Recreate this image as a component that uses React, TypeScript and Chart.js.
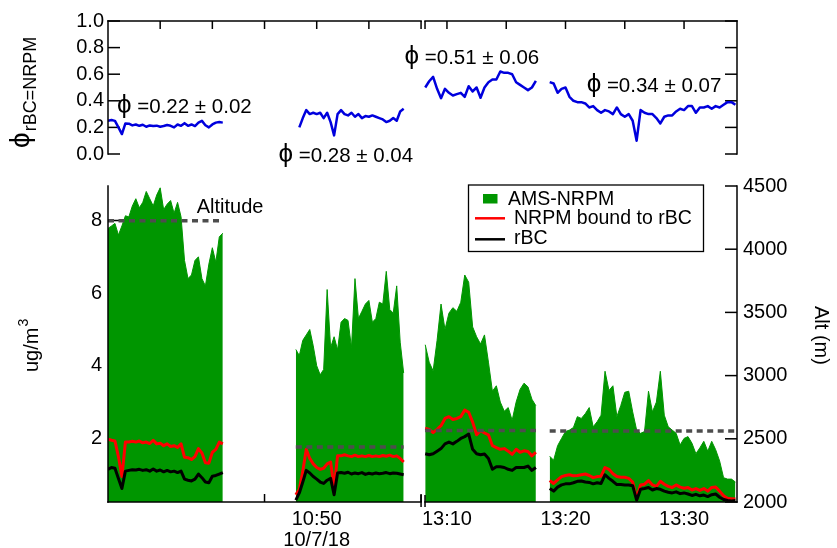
import React, { useEffect, useRef } from 'react';
import { Chart, registerables } from 'chart.js';

Chart.register(...registerables);

const FONT = "'Liberation Sans', Arial, Helvetica, sans-serif";
Chart.defaults.font.family = FONT;
Chart.defaults.color = '#000';

// ---------- broken time axis ----------
const PART1_START = '10:30:00';
const PART1_END = '11:00:00';
const PART2_START = '13:08:09';
const PART2_END = '13:34:28';
const PART2_STRETCH = 1.136; // part 2 drawn wider per minute
const BREAK_GAP_MIN = 0.38;

const SAMPLE_STEP_SEC = 20;
const SEGMENT_START_TIMES = ['10:30:00', '10:48:00', '13:08:10', '13:18:40'];

const X_TICK_TIMES = ['10:35:00', '10:40:00', '10:45:00', '10:50:00', '10:55:00', '11:00:00', '13:10:00', '13:15:00', '13:20:00', '13:25:00', '13:30:00'];
const X_TICK_LABELS: (string | string[])[] = ['', '', '', ['10:50', '10/7/18'], '', '', '13:10', '', '13:20', '', '13:30'];

// ---------- data (ug/m3), one array per flight segment ----------
const AMS_NRPM: number[][] = [
  [7.78, 7.85, 7.92, 7.6, 7.85, 8.13, 8.1, 8.4, 8.6, 8.35, 8.5, 8.8, 8.6, 8.4, 8.7, 8.9, 8.3, 8.45, 8.55, 8.2, 8.5, 8.1, 6.9, 6.4, 6.5, 6.9, 7.0, 6.4, 6.2, 6.8, 7.25, 6.85, 7.55, 7.65],
  [4.45, 4.28, 4.7, 4.85, 5.0, 4.55, 4.0, 3.75, 3.9, 6.1, 4.5, 4.8, 4.44, 5.2, 5.3, 5.25, 4.5, 6.4, 5.3, 5.5, 5.7, 5.8, 5.2, 5.3, 5.75, 5.7, 6.6, 5.55, 5.45, 6.2, 4.65, 3.8],
  [4.58, 4.1, 3.86, 4.7, 5.7, 5.0, 5.45, 5.6, 5.5, 5.75, 6.5, 6.3, 5.07, 4.8, 4.6, 4.85, 4.1, 3.3, 3.45, 3.0, 2.75, 2.85, 2.5, 3.0, 3.35, 3.52, 3.42, 3.08, 2.9],
  [1.51, 1.4, 1.8, 2.0, 2.19, 2.23, 2.3, 2.6, 2.55, 2.68, 2.85, 2.32, 2.46, 2.64, 3.85, 3.32, 3.45, 2.6, 2.91, 3.27, 3.3, 2.73, 2.23, 2.14, 2.19, 3.3, 2.73, 3.0, 3.85, 2.64, 2.32, 2.23, 2.14, 1.82, 2.0, 2.05, 1.87, 1.58, 1.74, 1.92, 1.65, 1.92, 1.69, 1.38, 0.92, 0.88, 0.88, 0.8],
];
const NRPM_BOUND_TO_RBC: number[][] = [
  [1.98, 1.95, 1.93, 1.5, 0.95, 1.9, 1.9, 1.92, 1.9, 1.93, 1.88, 1.9, 1.86, 1.95, 1.85, 1.87, 1.8, 1.85, 1.78, 1.8, 1.75, 1.85, 1.48, 1.47, 1.42, 1.5, 1.72, 1.6, 1.33, 1.32, 1.62, 1.7, 1.9, 1.85],
  [0.45, 0.6, 1.1, 1.7, 1.45, 1.3, 1.2, 1.15, 1.18, 1.3, 1.35, 0.65, 1.52, 1.52, 1.55, 1.52, 1.5, 1.54, 1.5, 1.52, 1.5, 1.53, 1.5, 1.52, 1.5, 1.53, 1.51, 1.54, 1.5, 1.52, 1.45, 1.35],
  [2.28, 2.25, 2.16, 2.25, 2.35, 2.55, 2.6, 2.52, 2.55, 2.6, 2.78, 2.72, 2.45, 2.1, 2.22, 2.15, 2.1, 1.8, 1.75, 1.7, 1.72, 1.65, 1.56, 1.7, 1.62, 1.66, 1.64, 1.52, 1.62],
  [0.84, 0.76, 0.86, 0.95, 0.98, 1.0, 0.97, 0.98, 1.0, 1.02, 0.98, 0.92, 0.95, 0.96, 1.2, 1.15, 1.03, 0.95, 0.93, 0.93, 0.9, 0.8, 0.35, 0.72, 0.74, 0.84, 0.72, 0.68, 0.82, 0.74, 0.68, 0.65, 0.72, 0.66, 0.63, 0.65, 0.58, 0.62, 0.57, 0.62, 0.55, 0.65, 0.66, 0.55, 0.42, 0.35, 0.34, 0.33],
];
const RBC: number[][] = [
  [1.15, 1.2, 1.18, 0.9, 0.62, 1.1, 1.12, 1.14, 1.13, 1.15, 1.12, 1.14, 1.1, 1.16, 1.1, 1.13, 1.08, 1.12, 1.08, 1.1, 1.06, 1.1, 0.88, 0.85, 0.83, 0.88, 1.02, 0.92, 0.8, 0.78, 0.96, 0.98, 1.02, 1.06],
  [0.3, 0.5, 0.8, 1.12, 1.05, 0.95, 0.88, 0.8, 0.76, 0.85, 0.9, 0.45, 1.05, 1.06, 1.04, 1.07, 1.02, 1.05, 1.03, 1.06, 1.01, 1.04, 1.02, 1.05, 1.03, 1.04, 1.06, 1.03, 1.05, 1.04, 1.02, 1.0],
  [1.58, 1.55, 1.58, 1.65, 1.72, 1.85, 1.9, 1.85, 1.92, 2.0, 2.05, 2.12, 1.7, 1.58, 1.55, 1.57, 1.45, 1.15, 1.22, 1.22, 1.2, 1.15, 1.12, 1.2, 1.2, 1.2, 1.24, 1.12, 1.2],
  [0.62, 0.55, 0.66, 0.72, 0.75, 0.75, 0.78, 0.82, 0.83, 0.8, 0.79, 0.75, 0.78, 0.76, 1.0, 0.9, 0.82, 0.73, 0.73, 0.72, 0.72, 0.7, 0.3, 0.6, 0.62, 0.65, 0.58, 0.62, 0.6, 0.55, 0.52, 0.5, 0.53, 0.48, 0.5, 0.47, 0.43, 0.46, 0.42, 0.44, 0.4, 0.45, 0.47, 0.38, 0.32, 0.29, 0.28, 0.29],
];
const PHI_RBC_NRPM: (number | null)[][] = [
  [0.25, 0.255, 0.249, 0.2, 0.15, 0.23, 0.228, 0.215, 0.222, 0.212, 0.22, 0.205, 0.215, 0.21, 0.213, 0.205, 0.21, 0.218, 0.212, 0.2, 0.222, 0.212, 0.232, 0.212, 0.222, 0.21, 0.236, 0.249, 0.216, 0.2, 0.222, 0.236, 0.24, 0.236],
  [null, 0.2, 0.27, 0.33, 0.3, 0.31, 0.3, 0.31, 0.27, 0.31, 0.24, 0.14, 0.3, 0.33, 0.3, 0.29, 0.31, 0.28, 0.3, 0.27, 0.285, 0.28, 0.29, 0.28, 0.27, 0.26, 0.24, 0.25, 0.27, 0.25, 0.32, 0.34],
  [0.5, 0.547, 0.58, 0.49, 0.42, 0.49, 0.46, 0.44, 0.45, 0.46, 0.43, 0.51, 0.47, 0.5, 0.423, 0.5, 0.54, 0.56, 0.56, 0.62, 0.61, 0.61, 0.6, 0.54, 0.52, 0.5, 0.48, 0.5, 0.55],
  [0.54, 0.53, 0.46, 0.49, 0.5, 0.43, 0.4, 0.39, 0.39, 0.38, 0.35, 0.36, 0.33, 0.31, 0.33, 0.32, 0.3, 0.35, 0.3, 0.28, 0.3, 0.25, 0.1, 0.33, 0.31, 0.3, 0.3, 0.27, 0.23, 0.28, 0.29, 0.29, 0.32, 0.34, 0.33, 0.36, 0.36, 0.31, 0.35, 0.35, 0.36, 0.34, 0.36, 0.35, 0.37, 0.39, 0.39, 0.37],
];
const ALTITUDE_M = [4225, 2435, 2565, 2562];

const PHI_TICKS = [0, 0.2, 0.4, 0.6, 0.8, 1.0];
const MASS_TICKS = [2, 4, 6, 8];
const ALT_TICKS = [2000, 2500, 3000, 3500, 4000, 4500];

const PHI_SYMBOL = '\u03D5';
const PHI_LABELS = [' =0.22 \u00B1 0.02', ' =0.28 \u00B1 0.04', ' =0.51 \u00B1 0.06', ' =0.34 \u00B1 0.07'];
const PHI_LABEL_TIMES = ['10:30:52', '10:46:20', '10:58:25', '13:21:47'];
const PHI_LABEL_VALUES = [0.306, -0.06, 0.679, 0.463];

const ALTITUDE_LABEL = { text: 'Altitude', time: '10:38:30', value: 8.22 };

const GREEN = '#009600';
const RED = '#ff0000';
const BLUE = '#0000dd';
const GRAY = '#4d4d4d';

// ---------- helpers ----------
const toMin = (s: string) => {
  const [h, m, sec] = s.split(':').map(Number);
  return h * 60 + m + (sec || 0) / 60;
};
const P1S = toMin(PART1_START);
const P1E = toMin(PART1_END);
const P2S = toMin(PART2_START);
const P2E = toMin(PART2_END);
const toAxis = (t: number) =>
  t <= P1E + 1e-9 ? t - P1S : P1E - P1S + BREAK_GAP_MIN + (t - P2S) * PART2_STRETCH;
const X_MAX = toAxis(P2E);

function seriesPoints(segments: (number | null)[][]) {
  const pts: { x: number; y: number | null }[] = [];
  segments.forEach((vals, s) => {
    const t0 = toMin(SEGMENT_START_TIMES[s]);
    if (s > 0) pts.push({ x: toAxis(t0) - 0.05, y: null });
    vals.forEach((v, i) => pts.push({ x: toAxis(t0 + (i * SAMPLE_STEP_SEC) / 60), y: v }));
  });
  return pts;
}

function altitudePoints() {
  const pts: { x: number; y: number | null }[] = [];
  ALTITUDE_M.forEach((alt, s) => {
    const t0 = toMin(SEGMENT_START_TIMES[s]);
    const t1 = t0 + ((AMS_NRPM[s].length - 1) * SAMPLE_STEP_SEC) / 60;
    if (s > 0) pts.push({ x: toAxis(t0) - 0.05, y: null });
    pts.push({ x: toAxis(t0), y: alt }, { x: toAxis(t1), y: alt });
  });
  return pts;
}

function seg(ctx: CanvasRenderingContext2D, x1: number, y1: number, x2: number, y2: number) {
  ctx.beginPath();
  ctx.moveTo(x1, y1);
  ctx.lineTo(x2, y2);
  ctx.stroke();
}

const hiddenGrid = { display: false, drawTicks: false };
const noBorder = { display: false };

// ---------- top panel ----------
const topPlugin = {
  id: 'topFrame',
  beforeDatasetsDraw(chart: any) {
    const { ctx, chartArea: a } = chart;
    const xs = chart.scales.x;
    const ys = chart.scales.y;
    ctx.save();
    ctx.strokeStyle = '#000';
    ctx.lineWidth = 1.5;
    PHI_TICKS.forEach((v) => {
      const y = ys.getPixelForValue(v);
      seg(ctx, a.left, y, a.left + 12, y);
      seg(ctx, a.right - 12, y, a.right, y);
    });
    X_TICK_TIMES.forEach((t) => {
      const x = xs.getPixelForValue(toAxis(toMin(t)));
      seg(ctx, x, a.top, x, a.top + 8);
    });
    ctx.restore();
  },
  afterDatasetsDraw(chart: any) {
    const { ctx, chartArea: a } = chart;
    const xs = chart.scales.x;
    const ys = chart.scales.y;
    const b1 = xs.getPixelForValue(toAxis(P1E));
    const b2 = xs.getPixelForValue(toAxis(P2S));
    ctx.save();
    ctx.strokeStyle = '#000';
    ctx.lineWidth = 1.5;
    ctx.lineCap = 'square';
    seg(ctx, a.left, a.top, a.left, a.bottom);
    seg(ctx, a.right, a.top, a.right, a.bottom);
    seg(ctx, a.left, a.top, b1, a.top);
    seg(ctx, b2, a.top, a.right, a.top);
    ctx.lineCap = 'butt';
    seg(ctx, b2, a.top, b2, a.top + 8);

    ctx.fillStyle = '#000';
    ctx.textAlign = 'left';
    ctx.textBaseline = 'alphabetic';
    PHI_LABELS.forEach((s, i) => {
      const x = xs.getPixelForValue(toAxis(toMin(PHI_LABEL_TIMES[i])));
      const y = ys.getPixelForValue(PHI_LABEL_VALUES[i]);
      ctx.font = `26px ${FONT}`;
      ctx.fillText(PHI_SYMBOL, x, y);
      const w = ctx.measureText(PHI_SYMBOL).width;
      ctx.font = `20.5px ${FONT}`;
      ctx.fillText(s, x + w, y);
    });

    // y title: phi subscript rBC=NRPM
    ctx.save();
    ctx.translate(29, 148);
    ctx.rotate(-Math.PI / 2);
    ctx.font = `28px ${FONT}`;
    ctx.fillText(PHI_SYMBOL, 0, 0);
    const w = ctx.measureText(PHI_SYMBOL).width;
    ctx.font = `18px ${FONT}`;
    ctx.fillText('rBC=NRPM', w + 1, 7);
    ctx.restore();
    ctx.restore();
  },
};

function topConfig(): any {
  return {
    type: 'line',
    data: {
      datasets: [
        {
          label: 'phi',
          data: seriesPoints(PHI_RBC_NRPM),
          borderColor: BLUE,
          borderWidth: 2.5,
          pointRadius: 0,
          tension: 0,
          spanGaps: false,
          borderJoinStyle: 'round',
        },
      ],
    },
    options: {
      responsive: false,
      animation: false,
      events: [],
      layout: { padding: { top: 21, bottom: 15, left: 0, right: 0 } },
      plugins: { legend: { display: false }, tooltip: { enabled: false } },
      scales: {
        x: { type: 'linear', min: 0, max: X_MAX, display: false },
        y: {
          position: 'left',
          min: 0,
          max: 1,
          grid: hiddenGrid,
          border: noBorder,
          afterBuildTicks: (s: any) => {
            s.ticks = PHI_TICKS.map((v) => ({ value: v }));
          },
          ticks: {
            autoSkip: false,
            callback: (v: any) => Number(v).toFixed(1),
            font: { size: 20 },
            color: '#000',
            padding: 4,
          },
          afterFit: (s: any) => {
            s.width = 108;
          },
        },
        y2: {
          position: 'right',
          min: 0,
          max: 1,
          grid: hiddenGrid,
          border: noBorder,
          ticks: { display: false },
          afterFit: (s: any) => {
            s.width = 100;
          },
        },
      },
    },
    plugins: [topPlugin],
  };
}

// ---------- bottom panel ----------
const LEGEND_BOX = { x: 468.5, y: 17, w: 235, h: 66.5 };

const bottomPlugin = {
  id: 'bottomFrame',
  beforeDatasetsDraw(chart: any) {
    const { ctx, chartArea: a } = chart;
    const xs = chart.scales.x;
    ctx.save();
    ctx.strokeStyle = '#000';
    ctx.lineWidth = 1.5;
    MASS_TICKS.forEach((v) => {
      const y = chart.scales.y.getPixelForValue(v);
      seg(ctx, a.left, y, a.left + 12, y);
    });
    ALT_TICKS.forEach((v) => {
      const y = chart.scales.yAlt.getPixelForValue(v);
      seg(ctx, a.right - 12, y, a.right, y);
    });
    X_TICK_TIMES.forEach((t) => {
      const x = xs.getPixelForValue(toAxis(toMin(t)));
      seg(ctx, x, a.bottom, x, a.bottom - 8);
    });
    ctx.restore();
  },
  afterDatasetsDraw(chart: any) {
    const { ctx, chartArea: a } = chart;
    const xs = chart.scales.x;
    const b1 = xs.getPixelForValue(toAxis(P1E));
    const b2 = xs.getPixelForValue(toAxis(P2S));
    ctx.save();
    ctx.strokeStyle = '#000';
    ctx.lineWidth = 1.5;
    ctx.lineCap = 'square';
    seg(ctx, a.left, a.top, a.left, a.bottom);
    seg(ctx, a.right, a.top, a.right, a.bottom);
    seg(ctx, a.left, a.bottom, b1, a.bottom);
    seg(ctx, b2, a.bottom, a.right, a.bottom);
    ctx.lineCap = 'butt';
    seg(ctx, b1, a.bottom - 7, b1, a.bottom + 5);
    seg(ctx, b2, a.bottom - 7, b2, a.bottom + 5);

    // Altitude label
    ctx.fillStyle = '#000';
    ctx.font = `20px ${FONT}`;
    ctx.textAlign = 'left';
    ctx.textBaseline = 'alphabetic';
    ctx.fillText(
      ALTITUDE_LABEL.text,
      xs.getPixelForValue(toAxis(toMin(ALTITUDE_LABEL.time))),
      chart.scales.y.getPixelForValue(ALTITUDE_LABEL.value)
    );

    // legend
    const L = LEGEND_BOX;
    ctx.fillStyle = '#fff';
    ctx.fillRect(L.x, L.y, L.w, L.h);
    ctx.lineWidth = 1.3;
    ctx.strokeStyle = '#000';
    ctx.strokeRect(L.x, L.y, L.w, L.h);
    ctx.fillStyle = GREEN;
    ctx.fillRect(L.x + 14.5, L.y + 9, 14.5, 9.5);
    ctx.lineWidth = 2.5;
    ctx.strokeStyle = RED;
    seg(ctx, L.x + 6.5, L.y + 33.3, L.x + 36.5, L.y + 33.3);
    ctx.strokeStyle = '#000';
    seg(ctx, L.x + 6.5, L.y + 54.3, L.x + 36.5, L.y + 54.3);
    ctx.fillStyle = '#000';
    ctx.font = `19.5px ${FONT}`;
    ctx.fillText('AMS-NRPM', L.x + 39.5, L.y + 20);
    ctx.fillText('NRPM bound to rBC', L.x + 45.5, L.y + 39);
    ctx.fillText('rBC', L.x + 45.5, L.y + 59);

    // left title ug/m3
    ctx.save();
    ctx.translate(38, 372 - 168);
    ctx.rotate(-Math.PI / 2);
    ctx.font = `20px ${FONT}`;
    ctx.fillText('ug/m', 0, 0);
    const w = ctx.measureText('ug/m').width;
    ctx.font = `14px ${FONT}`;
    ctx.fillText('3', w + 1, -10);
    ctx.restore();

    // right title
    ctx.save();
    ctx.translate(814.5, 306 - 168);
    ctx.rotate(Math.PI / 2);
    ctx.font = `20px ${FONT}`;
    ctx.fillText('Alt (m)', 0, 0);
    ctx.restore();

    ctx.restore();
  },
};

function bottomConfig(): any {
  return {
    type: 'line',
    data: {
      datasets: [
        {
          label: 'Altitude',
          data: altitudePoints(),
          yAxisID: 'yAlt',
          borderColor: GRAY,
          borderWidth: 3.5,
          borderDash: [6, 4.5],
          pointRadius: 0,
          spanGaps: false,
          order: 0,
        },
        {
          label: 'rBC',
          data: seriesPoints(RBC),
          yAxisID: 'y',
          borderColor: '#000',
          borderWidth: 3,
          pointRadius: 0,
          tension: 0,
          spanGaps: false,
          borderJoinStyle: 'round',
          order: 1,
        },
        {
          label: 'NRPM bound to rBC',
          data: seriesPoints(NRPM_BOUND_TO_RBC),
          yAxisID: 'y',
          borderColor: RED,
          borderWidth: 3,
          pointRadius: 0,
          tension: 0,
          spanGaps: false,
          borderJoinStyle: 'round',
          order: 2,
        },
        {
          label: 'AMS-NRPM',
          data: seriesPoints(AMS_NRPM),
          yAxisID: 'y',
          borderColor: GREEN,
          backgroundColor: GREEN,
          borderWidth: 1,
          fill: 'start',
          pointRadius: 0,
          tension: 0,
          spanGaps: false,
          order: 10,
        },
      ],
    },
    options: {
      responsive: false,
      animation: false,
      events: [],
      layout: { padding: { top: 12, bottom: 0, left: 0, right: 0 } },
      plugins: { legend: { display: false }, tooltip: { enabled: false } },
      scales: {
        x: {
          type: 'linear',
          min: 0,
          max: X_MAX,
          grid: hiddenGrid,
          border: noBorder,
          afterBuildTicks: (s: any) => {
            s.ticks = X_TICK_TIMES.map((t) => ({ value: toAxis(toMin(t)) }));
          },
          ticks: {
            autoSkip: false,
            maxRotation: 0,
            minRotation: 0,
            padding: 7,
            font: { size: 20, lineHeight: 1.05 },
            color: '#000',
            callback: (_v: any, i: number) => X_TICK_LABELS[i],
          },
          afterFit: (s: any) => {
            s.height = 46;
          },
        },
        y: {
          position: 'left',
          min: 0.25,
          max: 8.95,
          grid: hiddenGrid,
          border: noBorder,
          afterBuildTicks: (s: any) => {
            s.ticks = MASS_TICKS.map((v) => ({ value: v }));
          },
          ticks: { autoSkip: false, font: { size: 20 }, color: '#000', padding: 6, callback: (v: any) => String(v) },
          afterFit: (s: any) => {
            s.width = 108;
          },
        },
        yAlt: {
          position: 'right',
          min: 2000,
          max: 4500,
          grid: hiddenGrid,
          border: noBorder,
          afterBuildTicks: (s: any) => {
            s.ticks = ALT_TICKS.map((v) => ({ value: v }));
          },
          ticks: { autoSkip: false, font: { size: 20 }, color: '#000', padding: 6, callback: (v: any) => String(v) },
          afterFit: (s: any) => {
            s.width = 100;
          },
        },
      },
    },
    plugins: [bottomPlugin],
  };
}

export default function App() {
  const topRef = useRef<HTMLCanvasElement>(null);
  const botRef = useRef<HTMLCanvasElement>(null);
  useEffect(() => {
    const top = new Chart(topRef.current as HTMLCanvasElement, topConfig());
    const bot = new Chart(botRef.current as HTMLCanvasElement, bottomConfig());
    return () => {
      top.destroy();
      bot.destroy();
    };
  }, []);
  return (
    <div
      style={{
        position: 'absolute',
        left: 0,
        top: 0,
        width: 837,
        height: 548,
        overflow: 'hidden',
        background: '#fff',
      }}
    >
      <canvas ref={topRef} width={837} height={170} style={{ position: 'absolute', left: 0, top: 0 }} />
      <canvas ref={botRef} width={837} height={380} style={{ position: 'absolute', left: 0, top: 168 }} />
    </div>
  );
}
